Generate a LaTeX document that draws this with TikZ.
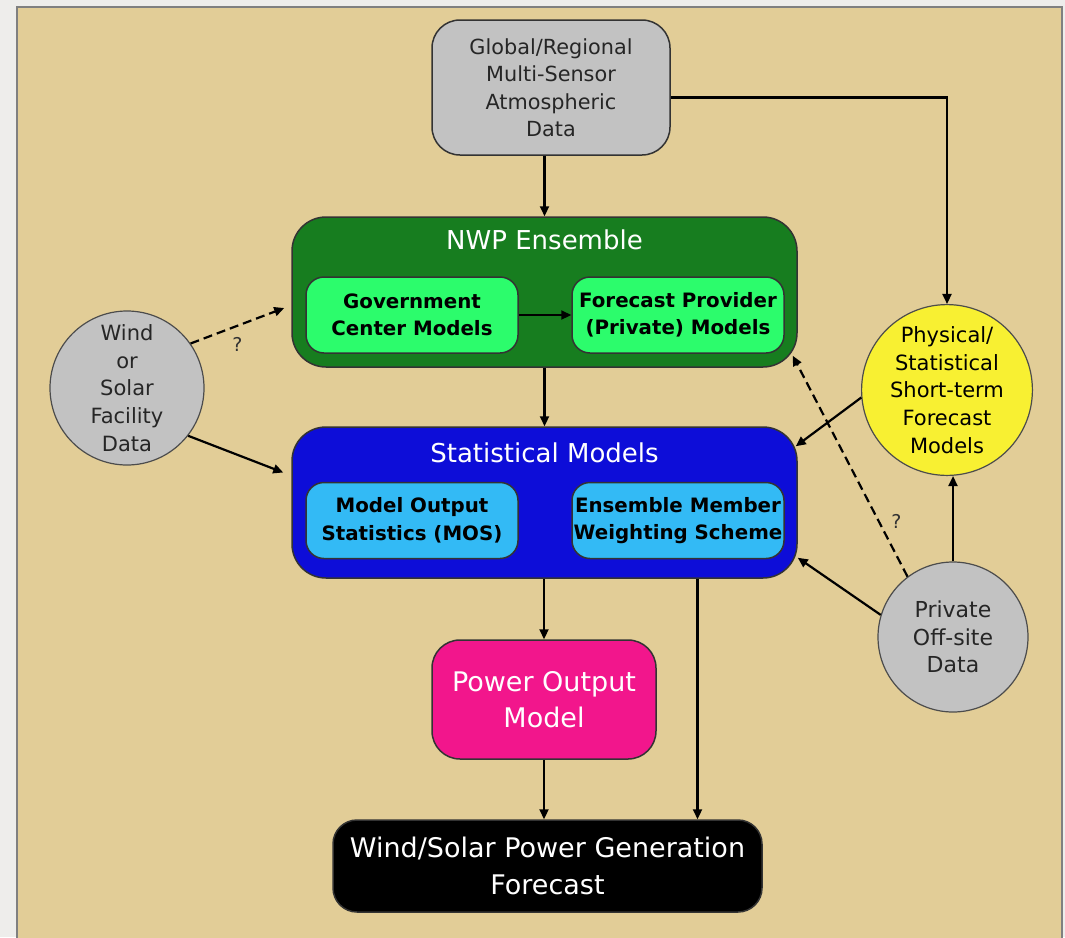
\documentclass[tikz,border=0pt]{standalone}
\usepackage{fontspec}
\setmainfont{DejaVu Sans}
\usepackage{tikz}
\usetikzlibrary{arrows.meta, positioning, shapes.geometric}
\definecolor{bgtan}{HTML}{E2CD97}
\definecolor{outergrey}{HTML}{EEEDEB}
\definecolor{boxgrey}{HTML}{C2C2C2}
\definecolor{nwpgreen}{HTML}{177D1F}
\definecolor{modgreen}{HTML}{2CFC6C}
\definecolor{statblue}{HTML}{0D0DD8}
\definecolor{mosblue}{HTML}{33BAF5}
\definecolor{powpink}{HTML}{F2168C}
\definecolor{physyellow}{HTML}{F8F032}

\begin{document}
\begin{tikzpicture}[x=1pt,y=-1pt,
   box/.style={draw=black!80, line width=1.5pt, rounded corners=28pt, align=center, inner sep=0pt},
   inbox/.style={box, rounded corners=18pt, minimum width=212pt, minimum height=76pt,
      font=\fontsize{19.8}{27.5}\selectfont\bfseries},
   blob/.style={circle, draw=black!70, line width=1.2pt, fill=boxgrey, text=black!85,
      minimum size=154pt, inner sep=0pt, align=center, font=\fontsize{21}{27.8}\selectfont},
   title/.style={text=white, font=\fontsize{26}{30}\selectfont},
   arr/.style={line width=2.2pt, -{Triangle[length=10pt,width=9pt]}},
   qarr/.style={arr, dash pattern=on 9pt off 5pt},
   qmark/.style={text=black!80, font=\fontsize{19}{20}\selectfont}]
\useasboundingbox (0,0) rectangle (1065,937);
\fill[outergrey] (0,0) rectangle (1065,937);
\filldraw[fill=bgtan, draw=black!50, line width=1.8pt] (17,7) rectangle (1062,950);

% data sources
\node[box, fill=boxgrey, text=black!85, minimum width=238pt, minimum height=135pt,
   font=\fontsize{20.8}{27.5}\selectfont] (glob) at (551,87.5)
   {Global/Regional\\Multi-Sensor\\Atmospheric\\Data};
\node[blob] (wind) at (127,388) {Wind\\or\\Solar\\Facility\\Data};
\node[blob, fill=physyellow, text=black] (phys) at (947,390)
   {Physical/\\Statistical\\Short-term\\Forecast\\Models};
\node[blob, minimum size=150pt, font=\fontsize{22}{27.5}\selectfont] (priv) at (953,637) {Private\\Off-site\\Data};

% NWP ensemble
\node[box, fill=nwpgreen, minimum width=505pt, minimum height=150pt, rounded corners=34pt] (nwp) at (544.5,292) {};
\node[title] (nwpt) at (544.5,240) {NWP Ensemble};
\node[inbox, fill=modgreen] (gov) at (412,315) {Government\\Center Models};
\node[inbox, fill=modgreen] (fp) at (678,315) {Forecast Provider\\(Private) Models};

% statistical models
\node[box, fill=statblue, minimum width=505pt, minimum height=151pt, rounded corners=34pt] (stat) at (544.5,502.5) {};
\node[title] (statt) at (544.5,453) {Statistical Models};
\node[inbox, fill=mosblue] (mos) at (412,520.5) {Model Output\\Statistics (MOS)};
\node[inbox, fill=mosblue] (ems) at (678,520.5) {Ensemble Member\\Weighting Scheme};

% output
\node[box, fill=powpink, text=white, minimum width=224pt, minimum height=119pt,
   font=\fontsize{27}{36}\selectfont] (pow) at (544,699.5) {Power Output\\Model};
\node[box, fill=black, text=white, minimum width=429pt, minimum height=92pt, rounded corners=24pt,
   font=\fontsize{27}{37}\selectfont] (fcst) at (547.5,866) {Wind/Solar Power Generation\\Forecast};

% connectors
\draw[arr] (nwp.north |- glob.south) -- (nwp.north);
\draw[arr] ([yshift=-10pt]glob.east) -| (phys.north);
\draw[arr] (gov) -- (fp);
\draw[arr] (nwp.south) -- (stat.north);
\draw[qarr] (wind.35) -- ([xshift=-7pt,yshift=-16pt]nwp.west) node[midway, below=7pt, qmark] (q1) {?};
\draw[arr] (wind.-38) -- ([xshift=-8pt,yshift=30pt]stat.west);
\draw[arr] (phys.185) -- ([xshift=-2pt,yshift=-20pt]stat.north east);
\draw[arr] (priv.163) -- ([yshift=21pt]stat.south east);
\draw[qarr] (priv.127) -- ([xshift=8pt,yshift=-2pt]fp.south east) node[pos=0.25, right=8pt, qmark] (q2) {?};
\draw[arr] (priv.north) -- (priv.north |- phys.south);
\draw[arr] (pow.north |- stat.south) -- (pow.north);
\draw[arr] (pow.south) -- (pow.south |- fcst.north);
\draw[arr] ([xshift=153pt]stat.south) -- ([xshift=153pt]stat.south |- fcst.north);
\end{tikzpicture}
\end{document}
